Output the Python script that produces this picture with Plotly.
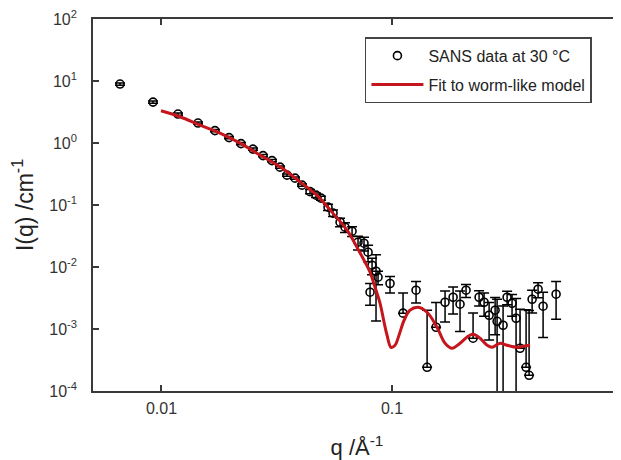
import plotly.graph_objects as go

# ---- SANS data ----
q_data = [0.00661, 0.00919, 0.01179, 0.01440, 0.01706, 0.01963, 0.02212, 0.02494,
          0.02757, 0.03015, 0.03266, 0.03503, 0.03795, 0.04070, 0.04408, 0.04680,
          0.04920, 0.05277, 0.05548, 0.05951, 0.06252, 0.06708, 0.07119, 0.07557,
          0.07870, 0.08190, 0.08521, 0.08694, 0.08028, 0.0980,
          0.1116, 0.1271, 0.1419, 0.1552, 0.1698, 0.1840, 0.1972, 0.2094, 0.2246,
          0.2385, 0.2507, 0.2636, 0.2799, 0.2855, 0.3031, 0.3155, 0.3315, 0.3451,
          0.3591, 0.3814, 0.3930, 0.4050, 0.4299, 0.4520, 0.5146]
I_data = [8.93, 4.57, 2.93, 2.10, 1.585, 1.222, 0.978, 0.797,
          0.626, 0.520, 0.408, 0.303, 0.271, 0.209, 0.1642, 0.1442,
          0.129, 0.0923, 0.0739, 0.0529, 0.0439, 0.0378, 0.0251, 0.0242,
          0.01733, 0.01069, 0.00855, 0.00685, 0.00392, 0.00542,
          0.00180, 0.00422, 0.000241, 0.001067, 0.00270, 0.00325, 0.00251, 0.00422, 0.00071,
          0.00325, 0.00270, 0.001667, 0.00201, 0.00133, 0.00115, 0.00325, 0.00260, 0.00149,
          0.000489, 0.000241, 0.000179, 0.00302, 0.00438, 0.00233, 0.00364]
err_plus = [0.36, 0.18, 0.12, 0.084, 0.063, 0.049, 0.039, 0.032,
            0.025, 0.021, 0.016, 0.012, 0.011, 0.0084, 0.013, 0.012,
            0.010, 0.011, 0.0089, 0.0085, 0.0079, 0.0068, 0.0063, 0.0061,
            0.0052, 0.0032, 0.0072, 0.0017, 0.0015, 0.0016,
            0.0020, 0.0016, 0.00177, 0.0016, 0.0014, 0.0015, 0.0016, 0.0010, 0.0011,
            0.0009, 0.0011, 0.0010, 0.0012, 0.0017, 0.0012, 0.0008, 0.0010, 0.0016,
            0.0016, 0.0018, 0.0018, 0.0012, 0.0012, 0.0016, 0.0022]
err_minus = [0.36, 0.18, 0.12, 0.084, 0.063, 0.049, 0.039, 0.032,
             0.025, 0.021, 0.016, 0.012, 0.011, 0.0084, 0.013, 0.012,
             0.010, 0.011, 0.0089, 0.0085, 0.0079, 0.0068, 0.0063, 0.0061,
             0.0052, 0.0032, 0.0072, 0.0017, 0.0015, 0.0016,
             0.0, 0.0016, 0.0, 0.0, 0.0014, 0.0015, 0.0016, 0.0010, 0.0,
             0.0009, 0.0011, 0.0010, 0.0012, 0.0017, 0.0012, 0.0008, 0.0010, 0.0016,
             0.0, 0.0, 0.0, 0.0012, 0.0012, 0.0016, 0.0022]

# ---- worm-like model fit ----
q_fit = [0.00995, 0.01203, 0.01469, 0.01794, 0.02191, 0.02675, 0.03266, 0.03990,
         0.04713, 0.05492, 0.06378, 0.07119, 0.07638, 0.08028, 0.08437, 0.08872,
         0.09233, 0.09513, 0.0990, 0.1030, 0.1072, 0.1128, 0.1197, 0.1297, 0.1419,
         0.1567, 0.1698, 0.1821, 0.1972, 0.2137, 0.2246, 0.2409, 0.2584, 0.2716,
         0.2942, 0.3155, 0.3486, 0.3701, 0.3970]
I_fit = [3.31, 2.65, 1.945, 1.445, 0.996, 0.638, 0.413, 0.2364,
         0.1442, 0.0767, 0.0393, 0.01938, 0.01195, 0.00824, 0.00472, 0.00260,
         0.001285, 0.000793, 0.000507, 0.000547, 0.000793, 0.001384, 0.00201, 0.002244, 0.001863,
         0.001067, 0.000589, 0.000489, 0.000589, 0.000764, 0.000823, 0.00071, 0.000547, 0.000507,
         0.000589, 0.000547, 0.000507, 0.000527, 0.000547]

x_tick_vals = [0.01, 0.1, 1]
x_tick_text = ["0.01", "0.1", "1"]
y_tick_vals = [1e-4, 1e-3, 1e-2, 1e-1, 1e0, 1e1, 1e2]
y_tick_text = ["10<sup>-4</sup>", "10<sup>-3</sup>", "10<sup>-2</sup>", "10<sup>-1</sup>",
               "10<sup>0</sup>", "10<sup>1</sup>", "10<sup>2</sup>"]

FONT = "Liberation Sans, Arial, Helvetica, sans-serif"
AXC = "#3a3a3a"

fig = go.Figure()
fig.add_trace(go.Scatter(
    x=q_data, y=I_data, mode="markers", name="SANS data at 30 \u00b0C",
    legendgroup="a",
    marker=dict(symbol="circle-open", size=8, color="black", line=dict(width=1.6, color="black")),
    error_y=dict(type="data", symmetric=False, array=err_plus, arrayminus=err_minus,
                 color="black", thickness=1.5, width=5),
))
fig.add_trace(go.Scatter(
    x=q_fit, y=I_fit, mode="lines", name="Fit to worm-like model",
    legendgroup="b",
    line=dict(color="#c4161c", width=3, shape="spline"),
))

axis_common = dict(
    showline=True, linecolor=AXC, linewidth=1.6, mirror="ticks",
    ticks="inside", ticklen=6, tickwidth=1.5, tickcolor=AXC,
    showgrid=False, zeroline=False, automargin=False, ticklabeloverflow="allow",
    tickfont=dict(family=FONT, size=16, color="#333"),
)

# the page body adds an 8px offset, so the figure is 613x452 and margins are compensated
fig.update_layout(
    width=613, height=452,
    margin=dict(l=85, r=0, t=11, b=69),
    paper_bgcolor="white", plot_bgcolor="white",
    font=dict(family=FONT, color="#222"),
    xaxis=dict(type="log", range=[-2.297, -0.007], tickvals=x_tick_vals, ticktext=x_tick_text,
               ticklabelstandoff=2,
               title=dict(text="q /\u00c5<sup>-1</sup>", font=dict(family=FONT, size=22, color="#222"),
                          standoff=24),
               **axis_common),
    yaxis=dict(type="log", range=[-4, 2], tickvals=y_tick_vals, ticktext=y_tick_text,
               ticklabelstandoff=11,
               title=dict(text="I(q) /cm<sup>-1</sup>", font=dict(family=FONT, size=23, color="#222"),
                          standoff=12),
               **axis_common),
    showlegend=True,
    legend=dict(x=0.515, y=0.951, xanchor="left", yanchor="top",
                bordercolor="#444", borderwidth=1.5, bgcolor="white",
                font=dict(family=FONT, size=16, color="#222"),
                tracegroupgap=5, itemwidth=52),
)

fig.write_html("out.html")
